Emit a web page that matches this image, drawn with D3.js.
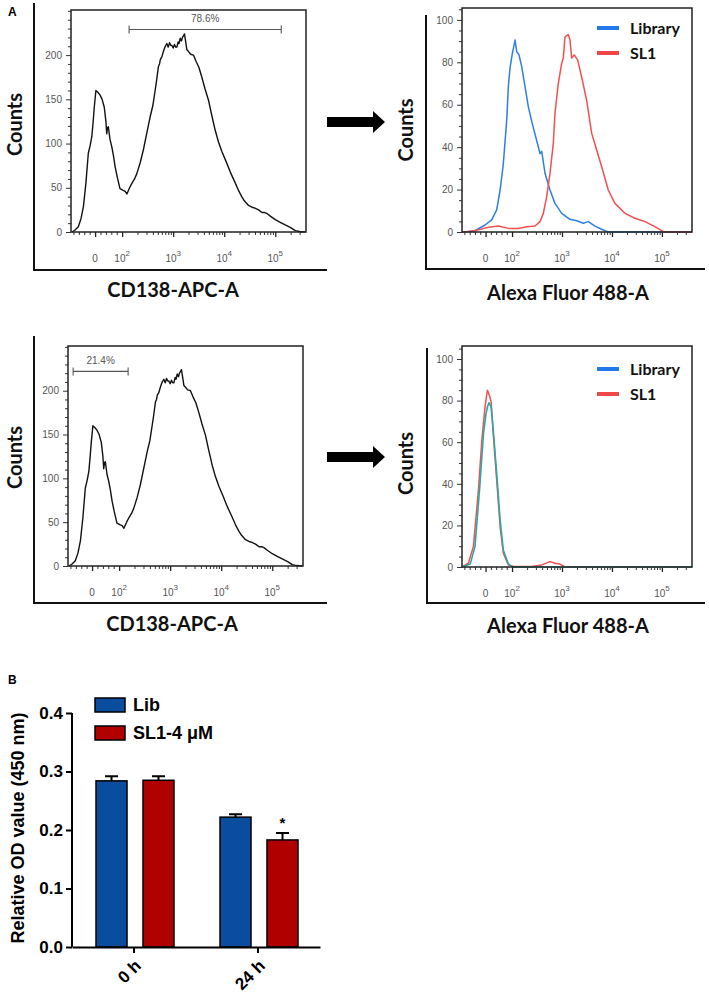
<!DOCTYPE html>
<html><head><meta charset="utf-8">
<script src="https://cdn.jsdelivr.net/npm/d3@7"></script>
<style>
body{margin:0;background:#fff;}
svg{display:block;}
</style></head>
<body>
<svg id="chart" width="709" height="993"></svg>
<script>
// ---------- DATA ----------
const cdYTicks = [0, 50, 100, 150, 200];
const afYTicks = [0, 20, 40, 60, 80, 100];
const flowXTicks = [0, 100, 1000, 10000, 100000];
const flowXTickBase = ["0", "10", "10", "10", "10"];
const flowXTickExp = ["", "2", "3", "4", "5"];
const flowXMinor = [-80, -60, -40, -20, 20, 40, 60, 80,
  200, 300, 400, 500, 600, 700, 800, 900,
  2000, 3000, 4000, 5000, 6000, 7000, 8000, 9000,
  20000, 30000, 40000, 50000, 60000, 70000, 80000, 90000,
  200000, 300000];

// CD138-APC-A histogram [intensity, counts]
const cd138Hist = [[-86,0],[-75,2],[-62,6],[-52,15],[-43,29],[-34,55],[-25,89],[-18,98],[-12,108],[-7,125],[-3,141],[3,160],[10,158],[18,155],[26,150],[34,141],[40,125],[43,111],[46,118],[49,119],[55,105],[62,96],[68,86],[74,74],[82,62],[92,49],[105,47],[115,46],[124,43],[140,50],[155,55],[175,60],[194,66],[225,78],[261,93],[300,110],[353,130],[400,143],[443,160],[470,170],[490,178],[514,187],[540,190],[560,195],[600,198],[650,205],[700,210],[752,213],[800,209],[850,214],[900,211],[942,211],[1000,208],[1060,212],[1120,209],[1180,209],[1250,215],[1300,213],[1371,219],[1450,216],[1520,220],[1600,222],[1664,224],[1760,215],[1855,206],[2000,204],[2200,201],[2497,200],[2800,193],[3200,186],[3646,175],[4200,162],[4920,149],[5700,132],[6653,115],[7700,102],[8995,91],[11000,79],[13090,68],[16000,57],[19050,47],[22000,40],[25000,35],[29920,30],[35000,28],[40000,27],[46990,25],[55000,22],[62000,22],[68710,21],[80000,18],[100000,14],[125000,11],[157000,8],[200000,5],[246600,1.5],[300000,0.5],[387300,0]];
const cdGates = [[137, 131000, 229, "78.6%"], [-70, 150, 222, "21.4%"]];

// Alexa Fluor 488-A histograms (top: positive cells)
const libTop = [[-89,0],[-77,0],[-40,0.6],[-2,3.3],[23,5.7],[42,10.4],[55,19.8],[67,32],[80,53],[86,68.5],[92,77],[101,84],[115,90.5],[124,85],[138,83.5],[156,78],[182,68.5],[212,59],[255,51],[312,43],[363,37],[393,38],[457,27.7],[575,19.8],[724,13.5],[986,8.8],[1445,6],[1968,5.3],[2667,4.1],[3357,4.9],[4571,2.8],[6223,1.3],[8433,0],[400000,0]];
const sl1Top = [[-89,0],[-77,0],[-27,1],[11,2.2],[48,2.8],[86,1.7],[134,1.7],[197,2.5],[288,2.8],[363,4.9],[423,8.8],[494,16.7],[575,27.7],[670,41.8],[724,56],[843,70],[986,79.6],[1062,82],[1148,92],[1337,93],[1445,90.5],[1563,82],[1762,83.5],[2061,81],[2477,73],[3119,62],[3926,46.5],[4943,38.7],[6223,30.8],[8433,19.8],[11480,13.5],[18200,8.8],[28840,6.5],[45710,4.9],[72440,2.5],[106000,0.2],[120000,0],[400000,0]];
// (bottom: negative cells)
const libBottom = [[-89,0],[-58,1.4],[-40,9.8],[-21,40],[-8,64],[1,73],[7,77],[13,79],[21,77],[29,66],[42,45],[55,22.6],[67,8.2],[86,1.4],[106,0],[400000,0]];
const sl1Bottom = [[-89,0],[-65,1.8],[-46,9.8],[-27,37],[-14,61],[-2,77],[7,85],[14,82.7],[21,79.5],[29,64],[42,41.8],[55,19.4],[67,6.6],[86,1],[106,0.3],[248,0.2],[393,1],[575,2.6],[724,1.8],[912,1.4],[1148,0],[400000,0]];
const flowLegend = ["Library", "SL1"];
const flowLegendColors = ["#1f7ae8", "#f04848"];

// Bar chart
const barGroups = ["0 h", "24 h"];
const barSeries = ["Lib", "SL1-4 μM"];
const libMeans = [0.284, 0.222];
const libErrors = [0.008, 0.005];
const sl1Means = [0.285, 0.183];
const sl1Errors = [0.007, 0.012];
const barYTicks = [0.0, 0.1, 0.2, 0.3, 0.4];
const sigMarks = ["", "*"];

// ---------- DRAW ----------
const svg = d3.select("#chart");
const TITLE_FONT = "Lato, 'Open Sans', sans-serif";
const TICK_FONT = "Arial, 'Liberation Sans', sans-serif";

// display transform (linear near zero, logarithmic above 100)
const disp = v => v >= 100 ? Math.log10(v) : 2 - 0.53 * (1 - v / 100);

function flowPanel(opt) {
  const g = svg.append("g");
  const x = d3.scaleLinear().domain([disp(-89), disp(400000)]).range([opt.left, opt.right]);
  const y = d3.scaleLinear().domain([0, opt.yMax]).range([opt.bottom, opt.top]);

  // outer L frame
  g.append("path")
    .attr("d", `M${opt.frameX},${opt.frameTop}V${opt.frameBottom}H${opt.frameRight}`)
    .attr("fill", "none").attr("stroke", "#111").attr("stroke-width", 2);

  // minor y ticks
  const minorY = d3.range(0, opt.yMax + 0.001, opt.yMinorStep).filter(v => !opt.yTicks.includes(v));
  g.append("g").attr("transform", `translate(${opt.left},0)`)
    .call(d3.axisLeft(y).tickValues(minorY).tickSize(3).tickFormat(""))
    .call(a => a.select(".domain").remove())
    .selectAll("line").attr("stroke", "#333");
  // major y ticks
  const ya = g.append("g").attr("transform", `translate(${opt.left},0)`)
    .call(d3.axisLeft(y).tickValues(opt.yTicks).tickSize(5).tickPadding(4))
    .call(a => a.select(".domain").remove());
  ya.selectAll("line").attr("stroke", "#333");
  ya.selectAll("text").attr("font-family", TICK_FONT).attr("font-size", 10).attr("fill", "#555");

  // x ticks
  g.append("g").attr("transform", `translate(0,${opt.bottom})`)
    .call(d3.axisBottom(x).tickValues(flowXMinor.map(disp)).tickSize(3).tickFormat(""))
    .call(a => a.select(".domain").remove())
    .selectAll("line").attr("stroke", "#333");
  g.append("g").attr("transform", `translate(0,${opt.bottom})`)
    .call(d3.axisBottom(x).tickValues(flowXTicks.map(disp)).tickSize(5).tickFormat(""))
    .call(a => a.select(".domain").remove())
    .selectAll("line").attr("stroke", "#222").attr("stroke-width", 1.3);
  const lab = g.append("g");
  flowXTicks.forEach((v, i) => {
    const t = lab.append("text").attr("x", x(disp(v))).attr("y", opt.bottom + 30)
      .attr("text-anchor", "middle").attr("font-family", TICK_FONT).attr("font-size", 10).attr("fill", "#555");
    t.append("tspan").text(flowXTickBase[i]);
    if (flowXTickExp[i]) t.append("tspan").attr("dy", -6).attr("font-size", 8).text(flowXTickExp[i]);
  });

  // curves
  const line = d3.line().x(d => x(disp(d[0]))).y(d => y(Math.min(d[1], opt.yMax)));
  opt.series.forEach(s => {
    g.append("path").datum(s.data).attr("d", line)
      .attr("fill", "none").attr("stroke", s.color).attr("stroke-width", s.width)
      .attr("stroke-linejoin", "round");
  });

  // gate
  if (opt.gate) {
    const [a, b, c, txt] = opt.gate;
    const gx1 = x(disp(a)), gx2 = x(disp(b)), gy = y(c);
    g.append("path").attr("d", `M${gx1},${gy - 4}V${gy + 4}M${gx1},${gy}H${gx2}M${gx2},${gy - 4}V${gy + 4}`)
      .attr("stroke", "#555").attr("stroke-width", 1.1).attr("fill", "none");
    g.append("text").attr("x", (gx1 + gx2) / 2).attr("y", gy - 7).attr("text-anchor", "middle")
      .attr("font-family", TICK_FONT).attr("font-size", 10).attr("fill", "#555").text(txt);
  }

  // inner box
  g.append("rect").attr("x", opt.left).attr("y", opt.top)
    .attr("width", opt.right - opt.left).attr("height", opt.bottom - opt.top)
    .attr("fill", "none").attr("stroke", "#222").attr("stroke-width", 1.5);

  // legend
  if (opt.legend) {
    flowLegend.forEach((name, i) => {
      const ly = opt.legendY + i * 25;
      g.append("line").attr("x1", opt.right - 95).attr("x2", opt.right - 73).attr("y1", ly).attr("y2", ly)
        .attr("stroke", flowLegendColors[i]).attr("stroke-width", 4);
      g.append("text").attr("x", opt.right - 62).attr("y", ly + 5.5)
        .attr("font-family", TITLE_FONT).attr("font-weight", "bold").attr("font-size", 16).attr("fill", "#111")
        .text(name);
    });
  }

  // titles
  g.append("text").attr("transform", `translate(${opt.yTitleX},${(opt.frameTop + opt.frameBottom) / 2 - 12}) rotate(-90)`)
    .attr("text-anchor", "middle").attr("font-family", TITLE_FONT).attr("font-weight", "bold")
    .attr("font-size", 20).attr("fill", "#111").text("Counts");
  g.append("text").attr("x", opt.xTitleX).attr("y", opt.xTitleY).attr("text-anchor", "middle")
    .attr("font-family", TITLE_FONT).attr("font-weight", "bold").attr("font-size", 20).attr("fill", "#111")
    .text(opt.xTitle);
}

flowPanel({left: 71, right: 306, top: 10, bottom: 232, yMax: 251, yTicks: cdYTicks, yMinorStep: 10,
  frameX: 34, frameTop: 3, frameBottom: 270, frameRight: 327,
  series: [{data: cd138Hist, color: "#111", width: 1.4}], gate: cdGates[0],
  yTitleX: 22, xTitleX: 173, xTitleY: 297, xTitle: "CD138-APC-A"});
flowPanel({left: 68, right: 303, top: 346, bottom: 566, yMax: 251, yTicks: cdYTicks, yMinorStep: 10,
  frameX: 34, frameTop: 336, frameBottom: 603, frameRight: 327,
  series: [{data: cd138Hist, color: "#111", width: 1.4}], gate: cdGates[1],
  yTitleX: 22, xTitleX: 172, xTitleY: 631, xTitle: "CD138-APC-A"});
flowPanel({left: 462, right: 692, top: 8, bottom: 232, yMax: 105.6, yTicks: afYTicks, yMinorStep: 5,
  frameX: 426, frameTop: 15, frameBottom: 269, frameRight: 705,
  series: [{data: libTop, color: "#2f7fe0", width: 1.5},
           {data: sl1Top, color: "#f05050", width: 1.5}],
  legend: true, legendY: 28,
  yTitleX: 413, xTitleX: 568, xTitleY: 300, xTitle: "Alexa Fluor 488-A"});
flowPanel({left: 462, right: 692, top: 346, bottom: 567, yMax: 100 * 221 / 208, yTicks: afYTicks, yMinorStep: 5,
  frameX: 427, frameTop: 348, frameBottom: 603, frameRight: 705,
  series: [{data: sl1Bottom, color: "#f05050", width: 1.5},
           {data: libBottom, color: "#2aa8a4", width: 1.6}],
  legend: true, legendY: 369,
  yTitleX: 413, xTitleX: 568, xTitleY: 633, xTitle: "Alexa Fluor 488-A"});

// arrows
[122, 457].forEach(cy => {
  svg.append("path")
    .attr("d", `M327,${cy - 5}H373V${cy - 11}L385,${cy}L373,${cy + 11}V${cy + 5}H327Z`)
    .attr("fill", "#000");
});

// panel letters
svg.append("text").attr("x", 8).attr("y", 16).attr("font-family", TICK_FONT).attr("font-weight", "bold")
  .attr("font-size", 12).text("A");
svg.append("text").attr("x", 8).attr("y", 684).attr("font-family", TICK_FONT).attr("font-weight", "bold")
  .attr("font-size", 12).text("B");

// ---------- Bar chart ----------
const bg = svg.append("g");
const bx = d3.scaleBand().domain(barGroups).range([72, 320]);
const bInner = d3.scaleBand().domain(barSeries).range([-38, 40]).paddingInner(0.34);
const by = d3.scaleLinear().domain([0, 0.4]).range([947, 713]);
const barColors = ["#0a4c9e", "#b00000"];
const means = [libMeans, sl1Means], errs = [libErrors, sl1Errors];

barSeries.forEach((s, si) => {
  barGroups.forEach((gname, gi) => {
    const cx = bx(gname) + bx.bandwidth() / 2;
    const x0 = cx + bInner(s), w = bInner.bandwidth();
    const m = means[si][gi], e = errs[si][gi];
    const mid = x0 + w / 2;
    bg.append("path").attr("d", `M${mid},${by(m)}V${by(m + e)}M${mid - 6.5},${by(m + e)}H${mid + 6.5}`)
      .attr("stroke", "#000").attr("stroke-width", 2).attr("fill", "none");
    bg.append("rect").attr("x", x0).attr("y", by(m)).attr("width", w).attr("height", by(0) - by(m))
      .attr("fill", barColors[si]).attr("stroke", "#000").attr("stroke-width", 1.5);
    if (si === 1 && sigMarks[gi]) {
      bg.append("text").attr("x", mid).attr("y", by(m + e) - 5).attr("text-anchor", "middle")
        .attr("font-family", TICK_FONT).attr("font-size", 15).attr("font-weight", "bold").text(sigMarks[gi]);
    }
  });
});

const yAx = bg.append("g").attr("transform", "translate(72,0)")
  .call(d3.axisLeft(by).tickValues(barYTicks).tickFormat(d3.format(".1f")).tickSize(6).tickPadding(3));
yAx.select(".domain").attr("stroke-width", 2).attr("d", "M0,713V947");
yAx.selectAll("line").attr("stroke-width", 2);
yAx.selectAll("text").attr("font-family", TICK_FONT).attr("font-weight", "bold").attr("font-size", 17).attr("fill", "#000");

const xAx = bg.append("g").attr("transform", "translate(0,947)")
  .call(d3.axisBottom(bx).tickSize(6).tickSizeOuter(0));
xAx.select(".domain").attr("stroke-width", 2);
xAx.selectAll("line").attr("stroke-width", 2);
xAx.selectAll("text").attr("font-family", TICK_FONT).attr("font-weight", "bold").attr("font-size", 17)
  .attr("fill", "#000").attr("text-anchor", "end").attr("x", 0).attr("y", 0).attr("dy", 0)
  .attr("transform", "translate(8,20) rotate(-45)");

bg.append("text").attr("transform", "translate(24,828) rotate(-90)").attr("text-anchor", "middle")
  .attr("font-family", TICK_FONT).attr("font-weight", "bold").attr("font-size", 18).text("Relative OD value (450 nm)");

barSeries.forEach((s, i) => {
  const ly = 698 + i * 28;
  bg.append("rect").attr("x", 95).attr("y", ly).attr("width", 30).attr("height", 14)
    .attr("fill", barColors[i]).attr("stroke", "#000").attr("stroke-width", 1.5);
  bg.append("text").attr("x", 133).attr("y", ly + 13).attr("font-family", TICK_FONT).attr("font-weight", "bold")
    .attr("font-size", 18).text(s);
});
</script>
</body></html>
